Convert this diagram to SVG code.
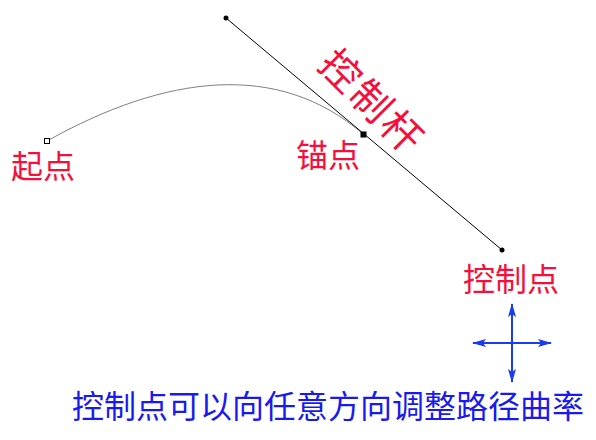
<svg xmlns="http://www.w3.org/2000/svg" width="596" height="440" viewBox="0 0 596 440">
<style>
.red{fill:#f5103c;font-family:"Noto Sans CJK SC",sans-serif;font-size:32px}
.blue{fill:#1a1aee;font-family:"Noto Sans CJK SC",sans-serif;font-size:32px}
.handle{stroke:#000;stroke-width:1;fill:none}
.curve{stroke:#808080;stroke-width:1;fill:none}
.arrow{stroke:#1a3cf0;stroke-width:2;fill:none}
</style>
<defs>
<marker id="ah" viewBox="0 0 14 8" refX="13" refY="4" markerWidth="14" markerHeight="8" markerUnits="userSpaceOnUse" orient="auto">
<path d="M0,0 L14,4 L0,8 L3,4 Z" fill="#1a3cf0"/>
</marker>
</defs>
<rect width="596" height="440" fill="#fff"/>
<g id="connectors">
<path class="curve" d="M47,141 C165,75 278,60 363,134"/>
<line class="handle" x1="226" y1="18" x2="502" y2="250"/>
</g>
<g id="start-point">
<rect x="44.5" y="138.5" width="5" height="5" fill="#fff" stroke="#000" stroke-width="1"/>
<text class="red" x="11" y="178">起点</text>
</g>
<g id="anchor-point">
<rect x="360.5" y="131.5" width="6" height="6" fill="#000"/>
<text class="red" x="296" y="167">锚点</text>
</g>
<g id="control-top">
<circle cx="226" cy="18" r="2.5" fill="#000"/>
</g>
<g id="control-bottom">
<circle cx="502" cy="250" r="2.5" fill="#000"/>
<text class="red" x="463" y="291">控制点</text>
</g>
<g id="handle-label">
<text class="red" x="0" y="0" style="font-size:40px" letter-spacing="3" transform="translate(324,59) rotate(45)" dominant-baseline="middle">控制杆</text>
</g>
<g id="direction-cross">
<line class="arrow" x1="512" y1="343" x2="512" y2="304" marker-end="url(#ah)"/>
<line class="arrow" x1="512" y1="343" x2="512" y2="382" marker-end="url(#ah)"/>
<line class="arrow" x1="512" y1="343" x2="473" y2="343" marker-end="url(#ah)"/>
<line class="arrow" x1="512" y1="343" x2="551" y2="343" marker-end="url(#ah)"/>
</g>
<g id="caption">
<text class="blue" x="72" y="418">控制点可以向任意方向调整路径曲率</text>
</g>
</svg>
